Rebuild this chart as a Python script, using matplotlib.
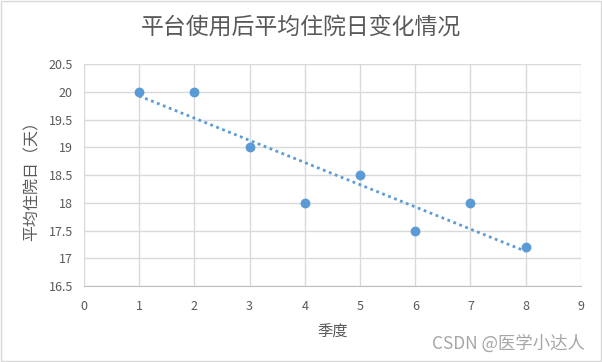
import numpy as np
import matplotlib.pyplot as plt

plt.rcParams['font.family'] = ['Noto Sans CJK SC', 'DejaVu Sans']

# data
quarter = [1, 2, 3, 4, 5, 6, 7, 8]
stay_days = [20, 20, 19, 18, 18.5, 17.5, 18, 17.2]
xticks = [0, 1, 2, 3, 4, 5, 6, 7, 8, 9]
yticks = [16.5, 17, 17.5, 18, 18.5, 19, 19.5, 20, 20.5]

blue = '#5b9bd5'
txt = '#595959'

fig = plt.figure(figsize=(6.02, 3.62), dpi=100)
ax = fig.add_axes([0.1395, 0.21, 0.8255, 0.613])

# linear trendline
k, b = np.polyfit(quarter, stay_days, 1)
tx = np.array([quarter[0], quarter[-1]])
ax.plot(tx, k * tx + b, linestyle=(0, (1, 1.3)), color=blue, linewidth=2, zorder=2)
ax.scatter(quarter, stay_days, s=50, color=blue, zorder=3, linewidths=0)

ax.set_xlim(0, 9)
ax.set_ylim(16.5, 20.5)
ax.set_xticks(xticks)
ax.set_yticks(yticks)
ax.set_yticklabels([('%g' % v) for v in yticks])
ax.grid(True, color='#d9d9d9', linewidth=1)
ax.set_axisbelow(True)
for s in ['top', 'right', 'left']:
    ax.spines[s].set_visible(False)
ax.spines['bottom'].set_color('#bfbfbf')
ax.tick_params(length=0, colors=txt, labelsize=9)
ax.tick_params(axis='x', pad=10)
ax.tick_params(axis='y', pad=8)

ax.set_xlabel('季度', color=txt, fontsize=11, labelpad=8)
ax.set_ylabel('平均住院日（天）', color=txt, fontsize=11.5)
ax.yaxis.set_label_coords(-0.087, 0.49)
fig.text(0.5, 0.925, '平台使用后平均住院日变化情况', ha='center', va='center',
         color=txt, fontsize=16.5, fontweight='light')
fig.text(0.972, 0.05, 'CSDN @医学小达人', ha='right', va='center',
         color='#a6a6a6', fontsize=12.5)

# outer border
fig.patches.append(plt.Rectangle((0.002, 0.003), 0.996, 0.994, transform=fig.transFigure,
                                 fill=False, edgecolor='#d9d9d9', linewidth=1))

fig.savefig('out.png', dpi=100)
